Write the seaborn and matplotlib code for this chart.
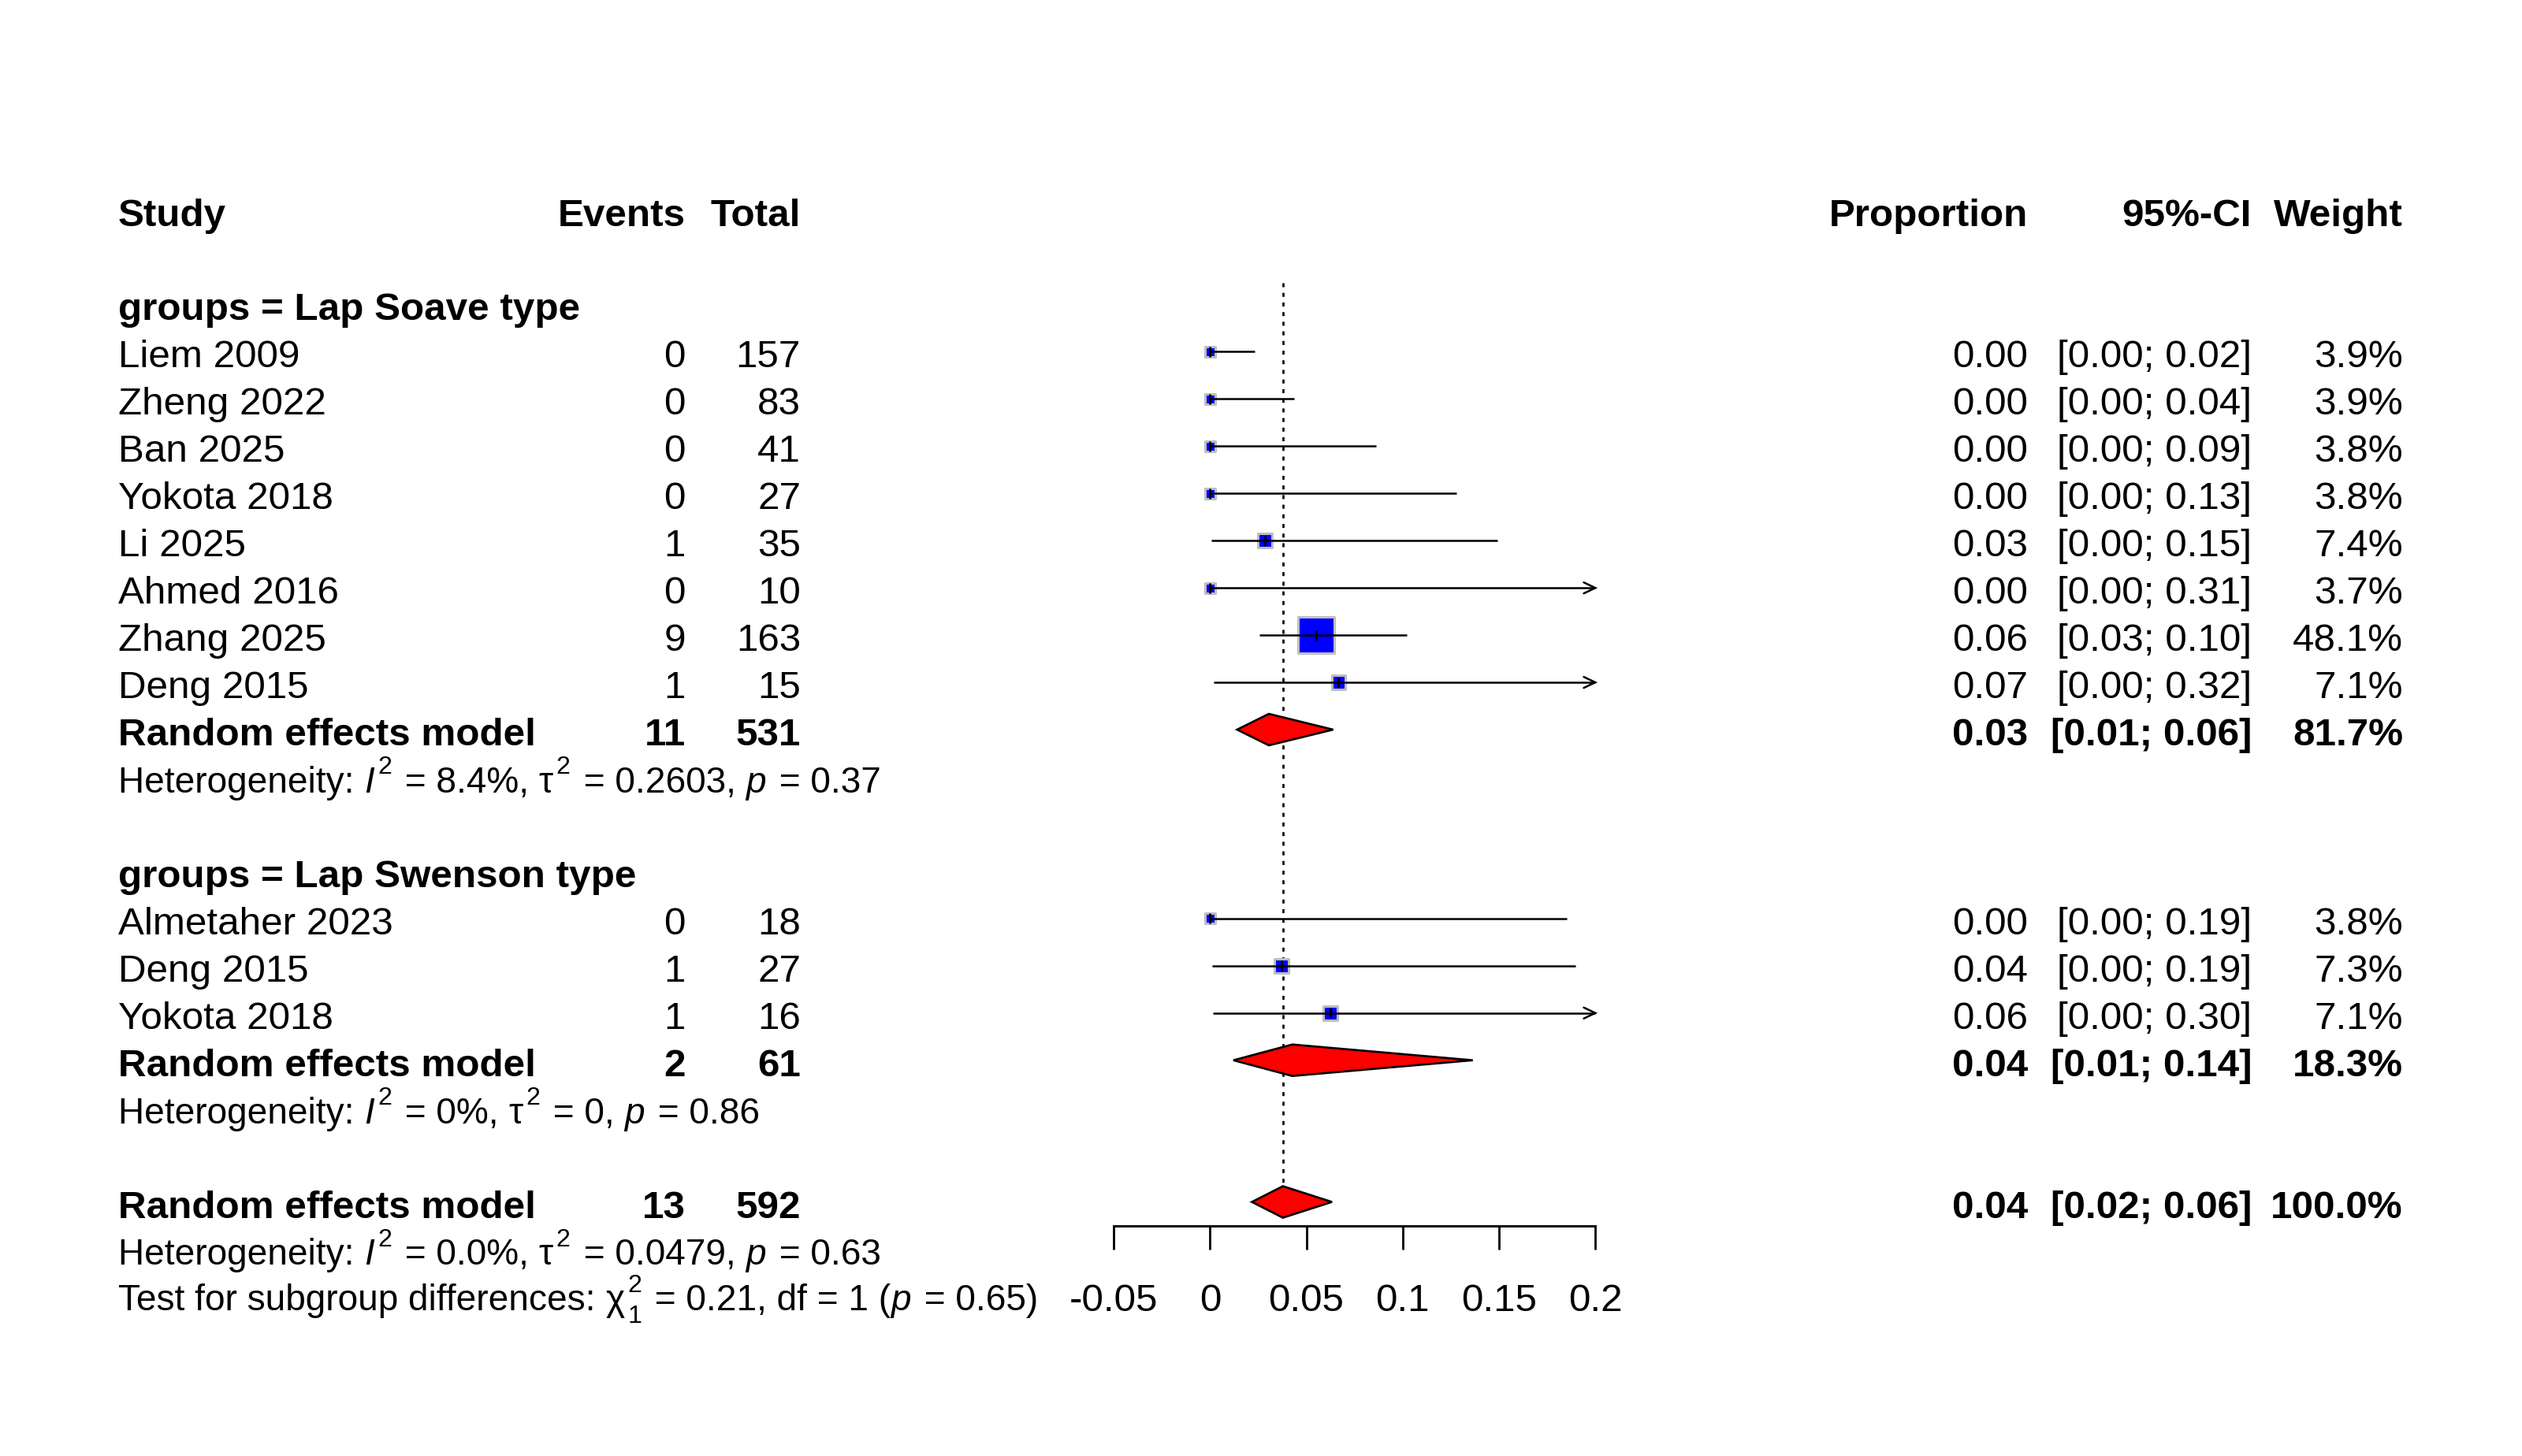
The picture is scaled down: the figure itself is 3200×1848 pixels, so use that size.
import numpy as np
import pandas as pd
import matplotlib
matplotlib.use("Agg")
import matplotlib.pyplot as plt
import matplotlib.transforms as mtransforms
from matplotlib.font_manager import FontProperties
import seaborn as sns

# ---------------- data ----------------
group_labels = ["groups = Lap Soave type", "groups = Lap Swenson type"]

studies1 = ["Liem 2009", "Zheng 2022", "Ban 2025", "Yokota 2018", "Li 2025",
            "Ahmed 2016", "Zhang 2025", "Deng 2015"]
events1 = [0, 0, 0, 0, 1, 0, 9, 1]
totals1 = [157, 83, 41, 27, 35, 10, 163, 15]
prop1 = [0.0, 0.0, 0.0, 0.0, 0.0286, 0.0, 0.0552, 0.0667]
lower1 = [0.0, 0.0, 0.0, 0.0, 0.0007, 0.0, 0.0256, 0.0017]
upper1 = [0.0232, 0.0438, 0.0862, 0.128, 0.149, 0.308, 0.102, 0.319]
weights1 = [3.9, 3.9, 3.8, 3.8, 7.4, 3.7, 48.1, 7.1]

studies2 = ["Almetaher 2023", "Deng 2015", "Yokota 2018"]
events2 = [0, 1, 1]
totals2 = [18, 27, 16]
prop2 = [0.0, 0.037, 0.0625]
lower2 = [0.0, 0.0009, 0.0016]
upper2 = [0.1853, 0.1897, 0.302]
weights2 = [3.8, 7.3, 7.1]

# random effects models: subgroup 1, subgroup 2, overall
re_labels = ["Random effects model", "Random effects model", "Random effects model"]
re_events = [11, 2, 13]
re_totals = [531, 61, 592]
re_est = [0.0305, 0.0427, 0.0378]
re_lower = [0.0140, 0.0121, 0.0217]
re_upper = [0.0639, 0.1364, 0.0633]
re_weights = [81.7, 18.3, 100.0]

# heterogeneity lines as (text, style) pieces
het_pieces = [
    [("Heterogeneity: ", "n"), ("I", "i"), ("2", "sup"), (" = 8.4%, ", "n"),
     ("\u03c4", "g"), ("2", "sup"), (" = 0.2603, ", "n"), ("p", "i"), (" = 0.37", "n")],
    [("Heterogeneity: ", "n"), ("I", "i"), ("2", "sup"), (" = 0%, ", "n"),
     ("\u03c4", "g"), ("2", "sup"), (" = 0, ", "n"), ("p", "i"), (" = 0.86", "n")],
    [("Heterogeneity: ", "n"), ("I", "i"), ("2", "sup"), (" = 0.0%, ", "n"),
     ("\u03c4", "g"), ("2", "sup"), (" = 0.0479, ", "n"), ("p", "i"), (" = 0.63", "n")],
]
test_pieces = [("Test for subgroup differences: ", "n"), ("\u03c7", "g"), ("2", "sup"),
               ("1", "sub"), (" = 0.21, df = 1 (", "n"), ("p", "i"), (" = 0.65)", "n")]

header_left = ["Study", "Events", "Total"]
header_right = ["Proportion", "95%-CI", "Weight"]

tick_values = [-0.05, 0.0, 0.05, 0.1, 0.15, 0.2]
tick_labels = ["-0.05", "0", "0.05", "0.1", "0.15", "0.2"]
xmin, xmax = -0.05, 0.2

# ---------------- style ----------------
sns.set_theme(style="white")
plt.rcParams['font.family'] = ['Liberation Sans', 'DejaVu Sans']
plt.rcParams['axes.unicode_minus'] = False

W, H, DPI = 3200, 1849, 200
FS = 17.8
FS_H = FS * 0.93
fig = plt.figure(figsize=(W / DPI, H / DPI), dpi=DPI)
fig.patch.set_facecolor("white")

# layout (pixels)
row0_px = 267.6
row_h = 59.95
x0_px = 1535.4
px_per_unit = 2444.0
axis_px = 1557.0
ax_left = (x0_px + xmin * px_per_unit) / W
ax_right = (x0_px + xmax * px_per_unit) / W
top_row = -1.0
top_px = row0_px + top_row * row_h
bottom_row = (axis_px - row0_px) / row_h
ax = fig.add_axes([ax_left, 1 - axis_px / H, ax_right - ax_left, (axis_px - top_px) / H])
ax.set_xlim(xmin, xmax)
ax.set_ylim(bottom_row, top_row)
ax.set_facecolor("none")

# rows
r_header = 0
r_g1 = 2
rows1 = [3 + i for i in range(len(studies1))]
r_re1 = rows1[-1] + 1
r_het1 = r_re1 + 1
r_g2 = r_het1 + 2
rows2 = [r_g2 + 1 + i for i in range(len(studies2))]
r_re2 = rows2[-1] + 1
r_het2 = r_re2 + 1
r_all = r_het2 + 2
r_het_all = r_all + 1
r_test = r_all + 2
re_rows = [r_re1, r_re2, r_all]
het_rows = [r_het1, r_het2, r_het_all]

df = pd.DataFrame({
    "study": studies1 + studies2,
    "events": events1 + events2,
    "total": totals1 + totals2,
    "prop": prop1 + prop2,
    "lower": lower1 + lower2,
    "upper": upper1 + upper2,
    "weight": weights1 + weights2,
    "row": rows1 + rows2,
})

# ---------------- forest marks ----------------
side_px_per_sqrtw = 6.63
area_k = (side_px_per_sqrtw * 72 / DPI) ** 2
sns.scatterplot(data=df, x="prop", y="row", size="weight",
                sizes=(0, area_k * 100), size_norm=(0, 100),
                marker="s", color="#0000FF", edgecolor="#BEBEBE",
                linewidth=1.1, legend=False, ax=ax, zorder=2, clip_on=False)

lw = 0.9
ah_dx = 14.7 / px_per_unit
ah_dy = 7.0 / row_h
for _, r in df.iterrows():
    xe = min(r["upper"], xmax)
    ax.hlines(r["row"], r["lower"], xe, color="black", lw=lw, zorder=3, clip_on=False)
    ax.vlines(r["prop"], r["row"] - 0.108, r["row"] + 0.108, color="black", lw=1.0,
              zorder=3, clip_on=False)
    if r["upper"] > xmax:
        ax.plot([xmax - ah_dx, xmax, xmax - ah_dx],
                [r["row"] - ah_dy, r["row"], r["row"] + ah_dy],
                color="black", lw=lw, zorder=3, clip_on=False, solid_joinstyle="miter")

dh = 20.0 / row_h
for rr, e, lo, hi in zip(re_rows, re_est, re_lower, re_upper):
    ax.fill([lo, e, hi, e], [rr, rr - dh, rr, rr + dh], facecolor="#FF0000",
            edgecolor="black", lw=0.95, zorder=4, clip_on=False)

ax.vlines(re_est[2], 1.54, r_all - dh, color="black", lw=1.0,
          linestyles=(0, (1.8, 2.6)), zorder=1)

# axis
for s in ["top", "left", "right"]:
    ax.spines[s].set_visible(False)
ax.spines["bottom"].set_bounds(xmin, xmax)
ax.spines["bottom"].set_color("black")
ax.spines["bottom"].set_linewidth(1.05)
ax.set_xticks(tick_values)
ax.set_xticklabels(tick_labels)
ax.set_yticks([])
ax.tick_params(axis="x", length=10.8, width=1.0, direction="out", pad=15.0,
               labelsize=FS, colors="black", bottom=True)
ax.set_xlabel("")
ax.set_ylabel("")
ax.grid(False)

# ---------------- text columns ----------------
trans = mtransforms.blended_transform_factory(fig.transFigure, ax.transData)
base_off = 19.0 / row_h
X_STUDY, X_EVENTS, X_TOTAL = 150 / W, 870 / W, 1016 / W
X_PROP, X_CI, X_WEIGHT = 2573 / W, 2857 / W, 3049 / W


def put(x, row, s, ha="left", bold=False):
    ax.text(x, row + base_off, s, transform=trans, ha=ha, va="baseline",
            fontsize=FS, fontweight="bold" if bold else "normal", color="black",
            clip_on=False)


put(X_STUDY, r_header, header_left[0], bold=True)
put(X_EVENTS, r_header, header_left[1], ha="right", bold=True)
put(X_TOTAL, r_header, header_left[2], ha="right", bold=True)
put(X_PROP, r_header, header_right[0], ha="right", bold=True)
put(X_CI, r_header, header_right[1], ha="right", bold=True)
put(X_WEIGHT, r_header, header_right[2], ha="right", bold=True)

put(X_STUDY, r_g1, group_labels[0], bold=True)
put(X_STUDY, r_g2, group_labels[1], bold=True)

for _, r in df.iterrows():
    put(X_STUDY, r["row"], r["study"])
    put(X_EVENTS, r["row"], f"{int(r['events'])}", ha="right")
    put(X_TOTAL, r["row"], f"{int(r['total'])}", ha="right")
    put(X_PROP, r["row"], f"{r['prop']:.2f}", ha="right")
    put(X_CI, r["row"], f"[{r['lower']:.2f}; {r['upper']:.2f}]", ha="right")
    put(X_WEIGHT, r["row"], f"{r['weight']:.1f}%", ha="right")

for rr, lab, ev, tot, e, lo, hi, w in zip(re_rows, re_labels, re_events, re_totals,
                                         re_est, re_lower, re_upper, re_weights):
    put(X_STUDY, rr, lab, bold=True)
    put(X_EVENTS, rr, f"{ev}", ha="right", bold=True)
    put(X_TOTAL, rr, f"{tot}", ha="right", bold=True)
    put(X_PROP, rr, f"{e:.2f}", ha="right", bold=True)
    put(X_CI, rr, f"[{lo:.2f}; {hi:.2f}]", ha="right", bold=True)
    put(X_WEIGHT, rr, f"{w:.1f}%", ha="right", bold=True)

# chained rich text (plotmath-like)
renderer = fig.canvas.get_renderer()
MATH_GAP = 4.0  # px of extra space after math pieces


def text_w(s, prop):
    a = renderer.get_text_width_height_descent("|" + s + "|", prop, ismath=False)[0]
    b = renderer.get_text_width_height_descent("||", prop, ismath=False)[0]
    return a - b


def put_rich(x_px, row, pieces, base_px):
    em_px = FS_H * DPI / 72
    x = x_px
    last_sup_x = None
    last_sup_w = 0.0
    for txt, sty in pieces:
        if sty in ("sup", "sub"):
            size = FS_H * 0.7
            style = "normal"
        else:
            size = FS_H
            style = "italic" if sty == "i" else "normal"
        prop = FontProperties(family=['Liberation Sans', 'DejaVu Sans'],
                              size=size, style=style)
        if sty == "sup":
            dy = -0.52 * em_px
            xx = x
            last_sup_x, last_sup_w = x, text_w(txt, prop)
        elif sty == "sub":
            dy = 0.33 * em_px
            xx = last_sup_x if last_sup_x is not None else x
        else:
            dy = 0.0
            xx = x
            last_sup_x = None
        ax.text(xx / W, row + (base_px + dy) / row_h, txt, transform=trans,
                ha="left", va="baseline", fontproperties=prop, color="black",
                clip_on=False)
        w = text_w(txt, prop)
        gap = MATH_GAP if sty in ("sup", "sub", "i", "g") else 0.0
        if sty == "sub" and last_sup_x is not None:
            x = last_sup_x + max(w, last_sup_w) + gap
        else:
            x = xx + w + gap


for rr, pieces in zip(het_rows, het_pieces):
    put_rich(150, rr, pieces, 19.0)
put_rich(150, r_test, test_pieces, 17.0)

fig.savefig("out.png", dpi=DPI, facecolor="white")
